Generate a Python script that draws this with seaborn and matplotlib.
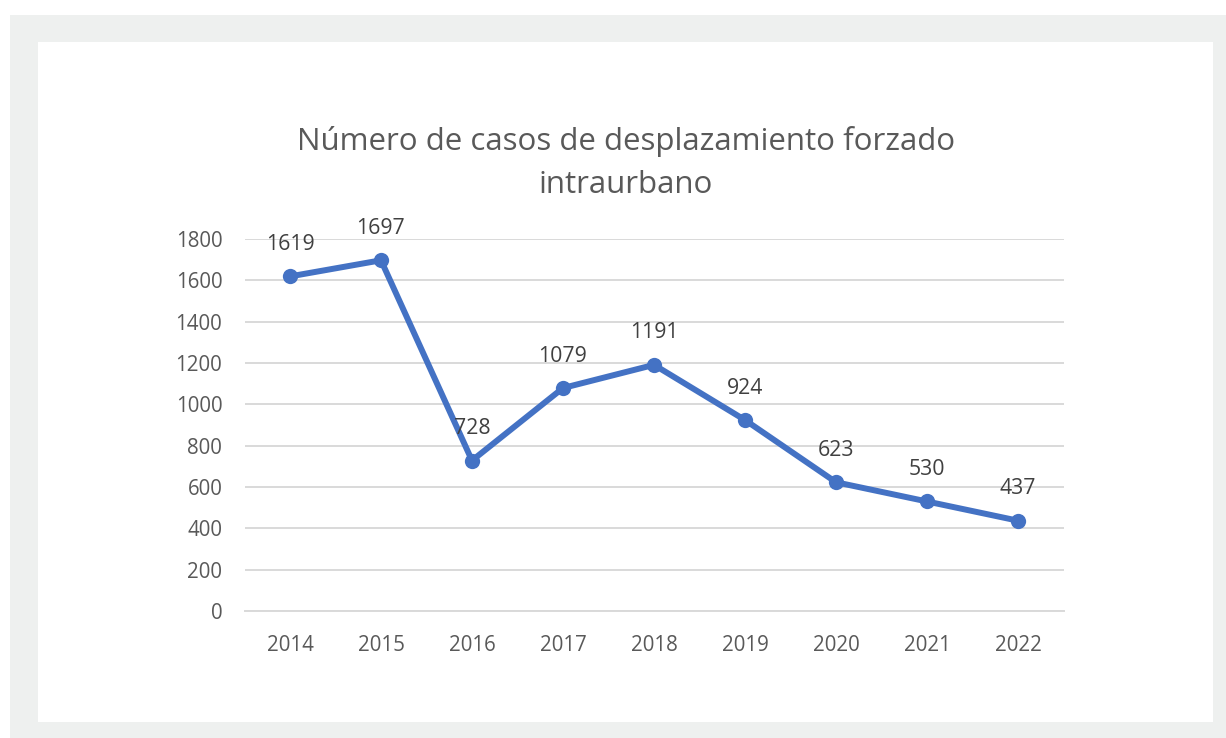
import matplotlib
matplotlib.use("Agg")
import matplotlib.pyplot as plt
import seaborn as sns
import pandas as pd
from matplotlib.patches import Rectangle

# data
years = ["2014", "2015", "2016", "2017", "2018", "2019", "2020", "2021", "2022"]
cases = [1619, 1697, 728, 1079, 1191, 924, 623, 530, 437]
y_ticks = [0, 200, 400, 600, 800, 1000, 1200, 1400, 1600, 1800]
title = "Número de casos de desplazamiento forzado\nintraurbano"

df = pd.DataFrame({"year": years, "cases": cases})

sns.set_theme(style="white")
plt.rcParams["font.family"] = ["Open Sans", "DejaVu Sans"]

W, H = 1226, 738
fig = plt.figure(figsize=(W / 100, H / 100), dpi=100)
fig.patch.set_facecolor("white")

# grey frame and white card behind the chart
fig.patches.append(Rectangle((10 / W, 0), 1 - 10 / W, (H - 15) / H,
                             transform=fig.transFigure, facecolor="#eef0ef",
                             edgecolor="none", zorder=-2))
fig.patches.append(Rectangle((38 / W, (H - 722) / H), (1213 - 38) / W, (722 - 42) / H,
                             transform=fig.transFigure, facecolor="white",
                             edgecolor="none", zorder=-1))

ax = fig.add_axes([244.5 / W, (H - 611) / H, (1063.5 - 244.5) / W, (611 - 239) / H])
ax.set_facecolor("none")

blue = "#4472c4"
sns.lineplot(data=df, x="year", y="cases", ax=ax, color=blue, linewidth=4.3,
             marker="o", markersize=11, markeredgewidth=0, sort=False)

for i, v in enumerate(cases):
    ax.annotate(str(v), (i, v), xytext=(0, 23), textcoords="offset points",
                ha="center", va="center", fontsize=15.3, color="#404040")

ax.set_xlim(-0.5, len(years) - 0.5)
ax.set_ylim(0, 1800)
ax.set_yticks(y_ticks)
ax.set_yticklabels([str(t) for t in y_ticks])
ax.yaxis.grid(True, color="#d9d9d9", linewidth=1.4)
ax.set_axisbelow(True)
ax.tick_params(axis="both", length=0, labelsize=14.8, labelcolor="#595959")
ax.tick_params(axis="y", pad=16)
ax.tick_params(axis="x", pad=17)
ax.set_xlabel("")
ax.set_ylabel("")
for s in ax.spines.values():
    s.set_visible(False)
ax.spines["bottom"].set_visible(True)
ax.spines["bottom"].set_color("#d9d9d9")
ax.spines["bottom"].set_linewidth(1.4)

fig.text(626 / W, (H - 163) / H, title, ha="center", va="center",
         fontsize=22.5, color="#595959", linespacing=1.55)

fig.savefig("out.png", dpi=100)
